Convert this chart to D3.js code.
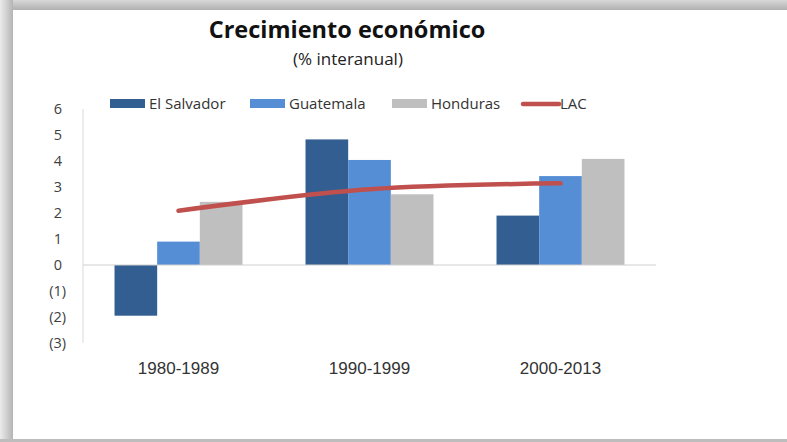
<!DOCTYPE html>
<html><head><meta charset="utf-8">
<script src="https://cdn.jsdelivr.net/npm/d3@7"></script>
<style>html,body{margin:0;padding:0;background:#fff;}svg{display:block;}</style>
</head><body>
<script>
const categories = ["1980-1989", "1990-1999", "2000-2013"];
const seriesNames = ["El Salvador", "Guatemala", "Honduras"];
const elSalvador = [-1.95, 4.83, 1.9];
const guatemala = [0.9, 4.04, 3.42];
const honduras = [2.43, 2.72, 4.08];
const lac = [2.09, 2.91, 3.14];
const yTicks = [6, 5, 4, 3, 2, 1, 0, -1, -2, -3];
const colors = ["#335e91", "#558ed5", "#bfbfbf"];
const lacColor = "#c0504d";

const W = 787, H = 442;
const svg = d3.select("body").append("svg").attr("width", W).attr("height", H);
const defs = svg.append("defs");
const gl = defs.append("linearGradient").attr("id", "gl").attr("x1", 0).attr("x2", 1).attr("y1", 0).attr("y2", 0);
gl.append("stop").attr("offset", 0).attr("stop-color", "#ececec");
gl.append("stop").attr("offset", 1).attr("stop-color", "#b4b4b4");
const gt = defs.append("linearGradient").attr("id", "gt").attr("x1", 0).attr("x2", 0).attr("y1", 0).attr("y2", 1);
gt.append("stop").attr("offset", 0).attr("stop-color", "#d8d8d8");
gt.append("stop").attr("offset", 1).attr("stop-color", "#b0b0b0");

// frame
svg.append("rect").attr("x", 0).attr("y", 0).attr("width", W).attr("height", H).attr("fill", "#fff");
svg.append("rect").attr("x", 0).attr("y", 0).attr("width", W).attr("height", 10).attr("fill", "url(#gt)");
svg.append("rect").attr("x", 0).attr("y", 0).attr("width", 13).attr("height", H).attr("fill", "url(#gl)");
svg.append("rect").attr("x", 0).attr("y", 439).attr("width", W).attr("height", 3).attr("fill", "#bdbdbd");

const x0 = d3.scaleBand().domain(categories).range([83, 656]).paddingInner(0.33).paddingOuter(0.165);
const x1 = d3.scaleBand().domain(seriesNames).range([0, x0.bandwidth()]);
const y = d3.scaleLinear().domain([-3, 6]).range([343, 109]);

// y axis line
svg.append("line").attr("x1", 83).attr("x2", 83).attr("y1", y(6)).attr("y2", y(-3)).attr("stroke", "#d9d9d9").attr("stroke-width", 1);

// y tick labels
const fmt = v => v < 0 ? "(" + Math.abs(v) + ")" : String(v);
svg.append("g").selectAll("text").data(yTicks).join("text")
  .attr("x", d => d < 0 ? 66 : 62)
  .attr("y", d => y(d))
  .attr("dy", "0.35em")
  .attr("text-anchor", "end")
  .attr("font-family", "Open Sans, sans-serif")
  .attr("font-size", 14.5)
  .attr("fill", "#404040")
  .text(fmt);

// bars
const data = [elSalvador, guatemala, honduras];
const gBars = svg.append("g");
seriesNames.forEach((s, si) => {
  gBars.append("g").selectAll("rect").data(categories).join("rect")
    .attr("x", (c) => x0(c) + x1(s))
    .attr("width", x1.bandwidth())
    .attr("y", (c, i) => y(Math.max(0, data[si][i])))
    .attr("height", (c, i) => Math.abs(y(data[si][i]) - y(0)))
    .attr("fill", colors[si]);
});

// zero line
svg.append("line").attr("x1", 83).attr("x2", 656).attr("y1", y(0)).attr("y2", y(0)).attr("stroke", "#d0d0d0").attr("stroke-width", 1.2);

// LAC line
const line = d3.line().x((d, i) => x0(categories[i]) + x0.bandwidth() / 2).y(d => y(d)).curve(d3.curveCatmullRom.alpha(0.5));
svg.append("path").datum(lac).attr("d", line).attr("fill", "none").attr("stroke", lacColor).attr("stroke-width", 4.5).attr("stroke-linecap", "round");

// x labels
svg.append("g").selectAll("text").data(categories).join("text")
  .attr("x", c => x0(c) + x0.bandwidth() / 2)
  .attr("y", 368).attr("dy", "0.35em")
  .attr("text-anchor", "middle")
  .attr("font-family", "Liberation Sans Narrow, sans-serif")
  .attr("font-size", 17)
  .attr("fill", "#333")
  .text(c => c);

// title
svg.append("text").attr("x", 347).attr("y", 38).attr("text-anchor", "middle")
  .attr("font-family", "Open Sans, sans-serif").attr("font-weight", "bold").attr("font-size", 23.5)
  .attr("fill", "#111").text("Crecimiento económico");
svg.append("text").attr("x", 348).attr("y", 65).attr("text-anchor", "middle")
  .attr("font-family", "Open Sans, sans-serif").attr("font-size", 17)
  .attr("fill", "#222").text("(% interanual)");

// legend
const legendItems = [
  {name: "El Salvador", x: 110, type: "rect", color: colors[0]},
  {name: "Guatemala", x: 250, type: "rect", color: colors[1]},
  {name: "Honduras", x: 392, type: "rect", color: colors[2]},
  {name: "LAC", x: 521, type: "line", color: lacColor}
];
const lg = svg.append("g");
legendItems.forEach(it => {
  if (it.type === "rect") {
    lg.append("rect").attr("x", it.x).attr("y", 99).attr("width", 35).attr("height", 9).attr("fill", it.color);
  } else {
    lg.append("line").attr("x1", it.x + 2).attr("x2", it.x + 38).attr("y1", 104).attr("y2", 104).attr("stroke", it.color).attr("stroke-width", 4.5).attr("stroke-linecap", "round");
  }
  lg.append("text").attr("x", it.x + 39).attr("y", 104).attr("dy", "0.35em")
    .attr("font-family", "Open Sans, sans-serif").attr("font-size", 15).attr("fill", "#333").text(it.name);
});
</script>
</body></html>
